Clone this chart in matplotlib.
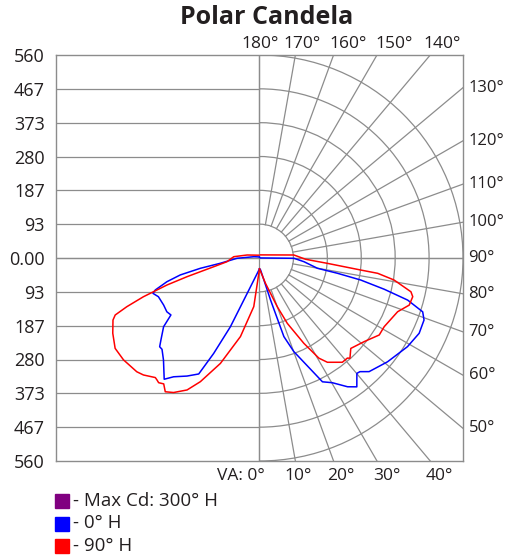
import numpy as np
import matplotlib
matplotlib.use('Agg')
import matplotlib.pyplot as plt
from matplotlib.patches import Arc, Rectangle

plt.rcParams['font.family'] = ['Open Sans', 'DejaVu Sans']

# Candela readings (vertical angle from nadir, cd)
# right half: 0 deg H (blue) and 90 deg H (red)
ang_0h = [0, 5, 14.7, 17.2, 20.1, 26.9, 30.2, 34.3, 37.0, 40.1, 41.4, 43.9, 50.9, 59.0,
          64.7, 69.3, 71.7, 74.1, 75.9, 77.7, 78.9, 79.9, 85.2, 89.5, 95, 180]
cd_0h = [30, 33, 120, 227, 275, 383, 398, 430, 445, 416, 418, 435, 454, 475,
         486, 484, 473, 424, 354, 285, 218, 162, 123, 95, 2, 2]

ang_90h = [0, 13.3, 20.0, 23.0, 27.4, 30.6, 33.0, 38.4, 41.2, 42.0, 45.2, 51.3, 57.2, 61.1,
           68.7, 72.5, 75.8, 77.4, 80.7, 82.6, 83.2, 85.5, 88.4, 95, 162]
cd_90h = [30, 72, 143, 196, 265, 321, 343, 367, 367, 372, 354, 369, 392, 392,
          408, 432, 435, 427, 375, 328, 281, 187, 127, 95, 9]

# left half: 180 deg H (blue) and 270 deg H (red)
ang_180h = [0, 22.9, 25.6, 27.6, 31.5, 35.8, 38.1, 43.2, 46.8, 48.3, 50.2, 54.3, 57.2, 59.8,
            63.8, 69.0, 71.6, 72.9, 75.6, 77.9, 80.1, 82.3, 89.2, 103, 170]
cd_180h = [30, 206, 292, 361, 382, 404, 425, 386, 368, 368, 353, 325, 290, 295,
           294, 298, 309, 300, 263, 223, 165, 109, 62, 16, 3]

ang_270h = [0, 6.7, 13.6, 20.3, 25.5, 28.7, 32.5, 35.1, 37.2, 38.9, 40.0, 41.0, 44.7, 47.1,
            53.1, 57.9, 62.8, 67.0, 68.4, 69.8, 71.5, 73.7, 75.5, 79.2, 83.5, 92.9, 103.7, 165]
cd_270h = [30, 135, 223, 310, 378, 415, 440, 451, 436, 442, 439, 437, 454, 461,
           468, 469, 454, 438, 427, 389, 337, 265, 206, 128, 90, 71, 35, 8]

max_cd = 560
n_rings = 6
ring_step = max_cd / n_rings
ray_angles = np.arange(0, 181, 10)
right_labels = [130, 120, 110, 100, 90, 80, 70, 60, 50]
top_labels = [180, 170, 160, 150, 140]
top_shift = [1, 7, 15, 17, 12]
bottom_labels = [10, 20, 30, 40]
bottom_shift = [3, 7, 10, 9]
legend_items = [('#800080', '- Max Cd: 300\u00b0 H'),
                ('#0000ff', '- 0\u00b0 H'),
                ('#ff0000', '- 90\u00b0 H')]

grid_c = '#8c8c8c'
text_c = '#231f20'

W, H = 506, 557
fig = plt.figure(figsize=(W / 100, H / 100), dpi=100)
ax = fig.add_axes([56 / W, (H - 461) / H, 407 / W, 406 / H])
ax.set_xlim(-max_cd, max_cd)
ax.set_ylim(-max_cd, max_cd)
for s in ax.spines.values():
    s.set_color(grid_c)
    s.set_linewidth(1.0)
ax.set_xticks([])

# left half: horizontal grid
levels = np.arange(-n_rings, n_rings + 1) * ring_step
for v in levels[1:-1]:
    ax.plot([-max_cd, 0], [v, v], color=grid_c, lw=0.9, zorder=1)
ax.set_yticks(levels)
ax.set_yticklabels(['%d' % round(abs(v)) if v != 0 else '0.00' for v in levels],
                   fontsize=13, color=text_c)
ax.tick_params(axis='y', length=0, pad=8)

# right half: polar grid
for k in range(1, n_rings + 1):
    r = k * ring_step
    ax.add_patch(Arc((0, 0), 2 * r, 2 * r, theta1=-90, theta2=90,
                     color=grid_c, lw=0.9, zorder=1))
ax.plot([0, 0], [-max_cd, max_cd], color=grid_c, lw=0.9, zorder=1)
ax.plot([-max_cd, max_cd], [0, 0], color=grid_c, lw=0.9, zorder=1)
for a in ray_angles:
    t = np.radians(a)
    dx, dy = np.sin(t), -np.cos(t)
    lim = []
    if abs(dx) > 1e-9:
        lim.append(max_cd / abs(dx))
    if abs(dy) > 1e-9:
        lim.append(max_cd / abs(dy))
    rmax = min(lim)
    ax.plot([ring_step * dx, rmax * dx], [ring_step * dy, rmax * dy],
            color=grid_c, lw=0.9, zorder=1)


def polar_xy(angles, cds, side):
    t = np.radians(np.array(angles))
    c = np.array(cds)
    return side * c * np.sin(t), -c * np.cos(t)


x, y = polar_xy(ang_0h, cd_0h, 1)
ax.plot(x, y, color='#0000ff', lw=1.1, zorder=3)
x, y = polar_xy(ang_90h, cd_90h, 1)
ax.plot(x, y, color='#ff0000', lw=1.1, zorder=3)
x, y = polar_xy(ang_180h, cd_180h, -1)
ax.plot(x, y, color='#0000ff', lw=1.1, zorder=3)
x, y = polar_xy(ang_270h, cd_270h, -1)
ax.plot(x, y, color='#ff0000', lw=1.1, zorder=3)

# angle labels
for a in right_labels:
    t = np.radians(a)
    yy = -max_cd * np.cos(t) / np.sin(t)
    ax.annotate('%d\u00b0' % a, (max_cd, yy), xytext=(4, 0), textcoords='offset points',
                ha='left', va='center', fontsize=12, color=text_c, annotation_clip=False)
for a, sh in zip(top_labels, top_shift):
    t = np.radians(a)
    xx = max_cd * np.tan(np.pi - t)
    ax.annotate('%d\u00b0' % a, (xx, max_cd), xytext=(sh * 0.72, 8), textcoords='offset points',
                ha='center', va='center', fontsize=12.5, color=text_c, annotation_clip=False)
ax.annotate('VA: 0\u00b0', (0, -max_cd), xytext=(4, -11), textcoords='offset points',
            ha='right', va='center', fontsize=12.5, color=text_c, annotation_clip=False)
for a, sh in zip(bottom_labels, bottom_shift):
    t = np.radians(a)
    xx = max_cd * np.tan(t)
    ax.annotate('%d\u00b0' % a, (xx, -max_cd), xytext=(sh * 0.72, -11), textcoords='offset points',
                ha='center', va='center', fontsize=12.5, color=text_c, annotation_clip=False)

fig.text(267 / W, 1 - 18 / H, 'Polar Candela', ha='center', va='center',
         fontsize=18, fontweight='bold', color=text_c)

# legend
for i, (c, lab) in enumerate(legend_items):
    yc = 501 + i * 22.5
    fig.add_artist(Rectangle((55 / W, 1 - (yc + 7) / H), 14 / W, 14 / H,
                             transform=fig.transFigure, color=c))
    fig.text(73 / W, 1 - yc / H, lab, ha='left', va='center', fontsize=13.5, color=text_c)

fig.savefig('out.png', dpi=100)
